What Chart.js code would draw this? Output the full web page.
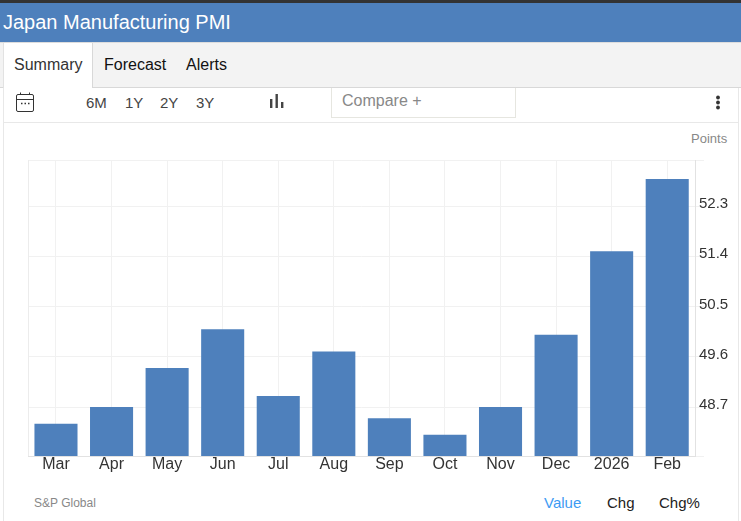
<!DOCTYPE html>
<html><head><meta charset="utf-8">
<script src="https://cdn.jsdelivr.net/npm/chart.js@4"></script>
<style>
html,body{margin:0;padding:0;background:#fff;overflow:hidden}
body{width:741px;height:521px;position:relative;font-family:"Liberation Sans",Arial,sans-serif}
.a{position:absolute;white-space:nowrap;line-height:20px}
.box{position:absolute;box-sizing:border-box}
canvas{position:absolute;left:0;top:0}
</style></head><body>
<div class="box" style="left:0;top:0;width:741px;height:3px;background:#333"></div>
<div class="box" style="left:0;top:3px;width:741px;height:39px;background:#4e80bc"></div>
<div class="a" style="left:3px;top:12px;font-size:20px;color:#fff">Japan Manufacturing PMI</div>
<div class="box" style="left:0;top:42px;width:741px;height:46px;background:#f3f3f3;border-top:1px solid #ddd;border-bottom:1px solid #d8d8d8"></div>
<div class="box" style="left:3px;top:43px;width:90px;height:45px;background:#fff;border-left:1px solid #e2e2e2;border-right:1px solid #d8d8d8"></div>
<div class="a" style="left:14px;top:55px;font-size:16px;color:#333">Summary</div>
<div class="a" style="left:104px;top:55px;font-size:16px;color:#111">Forecast</div>
<div class="a" style="left:186px;top:55px;font-size:16px;color:#111">Alerts</div>
<div class="box" style="left:3px;top:88px;width:1px;height:433px;background:#e8e8e8"></div>
<div class="box" style="left:738px;top:88px;width:1px;height:433px;background:#e8e8e8"></div>
<div class="box" style="left:3px;top:122px;width:736px;height:1px;background:#e8e8e8"></div>
<svg class="box" style="left:15px;top:91px" width="20" height="22" viewBox="0 0 20 22" fill="none" stroke="#333" stroke-width="1">
<rect x="1.5" y="3.5" width="17" height="17" rx="1.5"/><path d="M1.5 8.5H18.5M5.5 1.5V4M14.5 1.5V4"/><path d="M6 12.5h1.5M9.5 12.5h1.5M13 12.5h1.5" stroke-width="1.4"/></svg>
<div class="a" style="left:86px;top:93px;font-size:15px;color:#444">6M</div>
<div class="a" style="left:125px;top:93px;font-size:15px;color:#444">1Y</div>
<div class="a" style="left:160px;top:93px;font-size:15px;color:#444">2Y</div>
<div class="a" style="left:196px;top:93px;font-size:15px;color:#444">3Y</div>
<svg class="box" style="left:269px;top:92px" width="16" height="18" fill="#444"><rect x="1" y="7" width="2.4" height="9"/><rect x="6.5" y="2" width="2.4" height="14"/><rect x="12" y="10" width="2.4" height="6"/></svg>
<div class="box" style="left:331px;top:88px;width:185px;height:30px;background:#fff;border:1px solid #e6e6e0;border-top:none"></div>
<div class="a" style="left:342px;top:91px;font-size:16px;color:#888">Compare +</div>
<svg class="box" style="left:714px;top:95px" width="8" height="15" fill="#333"><circle cx="4" cy="2.5" r="1.9"/><circle cx="4" cy="7.5" r="1.9"/><circle cx="4" cy="12.5" r="1.9"/></svg>
<div class="a" style="left:691px;top:129px;font-size:13px;color:#888">Points</div>
<div class="a" style="left:34px;top:493px;font-size:12px;color:#888">S&amp;P Global</div>
<div class="a" style="left:544px;top:493px;font-size:15px;color:#3d9bf3">Value</div>
<div class="a" style="left:607px;top:493px;font-size:15px;color:#222">Chg</div>
<div class="a" style="left:659px;top:493px;font-size:15px;color:#222">Chg%</div>
<canvas id="c" width="741" height="521" style="width:741px;height:521px"></canvas>
<script>
const categories = ["Mar","Apr","May","Jun","Jul","Aug","Sep","Oct","Nov","Dec","2026","Feb"];
const pmiValues = [48.4,48.7,49.4,50.1,48.9,49.7,48.5,48.2,48.7,50.0,51.5,52.8];
const yTicks = [48.7,49.6,50.5,51.4,52.3];
const yMin = 47.82, yMax = 53.14;
const leftEdge = {id:'leftEdge',beforeDatasetsDraw(chart){
  const a=chart.chartArea,c=chart.ctx;
  c.save();c.strokeStyle='#ececec';c.lineWidth=1;c.beginPath();
  const x=Math.round(a.left)+0.5;
  c.moveTo(x,a.top);c.lineTo(x,a.bottom);c.stroke();c.restore();
}};
new Chart(document.getElementById('c'),{
  type:'bar',
  data:{labels:categories,datasets:[{data:pmiValues,backgroundColor:'#4e80bc',borderWidth:0,barPercentage:0.775,categoryPercentage:1}]},
  plugins:[leftEdge],
  options:{
    responsive:false,animation:false,
    layout:{padding:{left:28.2,top:160,right:0,bottom:0}},
    plugins:{legend:{display:false},tooltip:{enabled:false},title:{display:false}},
    scales:{
      x:{
        grid:{offset:false,color:'#f1f1f1',drawTicks:false},
        border:{color:'#e2e2e2'},
        ticks:{font:{family:'"Liberation Sans"',size:16},color:'#333',padding:-1,maxRotation:0,autoSkip:false},
        afterFit(s){s.height=65;}
      },
      y:{
        position:'right',min:yMin,max:yMax,
        afterBuildTicks(s){s.ticks=[yMin,...yTicks,yMax].map(v=>({value:v}));},
        grid:{color:'#f1f1f1',tickLength:9},
        border:{color:'#e2e2e2'},
        ticks:{font:{family:'"Liberation Sans"',size:15,lineHeight:0.33},color:'#333',padding:-5,
          callback:v=>yTicks.includes(v)?[v.toFixed(1),'']:''},
        afterFit(s){s.width=46;}
      }
    }
  }
});
</script>
</body></html>
